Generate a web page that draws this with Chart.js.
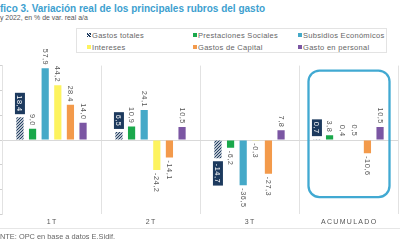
<!DOCTYPE html>
<html>
<head>
<meta charset="utf-8">
<script src="https://cdn.jsdelivr.net/npm/chart.js@4"></script>
<style>
  body { margin: 0; width: 400px; height: 250px; overflow: hidden; background: #fff;
         font-family: "Liberation Sans", Arial, sans-serif; position: relative; }
  #chart { position: absolute; left: 0; top: 0; }
  .title { position: absolute; left: 0; top: 3px; font-size: 10px; font-weight: bold; color: #3d9fcf; white-space: nowrap; }
  .sub { position: absolute; left: 0; top: 14px; font-size: 6.9px; color: #555; white-space: nowrap; }
  #legend { position: absolute; left: 76px; top: 28px; width: 311px; height: 25px; border: 1px solid #e3e3e3; box-sizing: border-box; }
  .item { position: absolute; font-size: 7.5px; color: #666; white-space: nowrap; letter-spacing: 0.3px; }
  .item span { display: inline-block; width: 4px; height: 4px; margin-right: 1px; vertical-align: 1px; }
  .foot { position: absolute; left: 0; top: 228px; width: 400px; border-top: 1px solid #e6e6e6; }
  .foot div { font-size: 7.4px; color: #666; padding-top: 3px; white-space: nowrap; }
</style>
</head>
<body>
<div class="title">fico 3. Variación real de los principales rubros del gasto</div>
<div class="sub">y 2022, en % de var. real a/a</div>
<div id="legend"></div>
<canvas id="chart" width="400" height="250"></canvas>
<div class="foot"><div>NTE: OPC en base a datos E.Sidif.</div></div>
<script>
const categories = ["1T", "2T", "3T", "ACUMULADO"];
const seriesNames = ["Gastos totales", "Prestaciones Sociales", "Subsidios Económicos",
                     "Intereses", "Gastos de Capital", "Gasto en personal"];
const gastosTotales = [18.4, 6.5, -14.7, 0.7];
const prestacionesSociales = [9.0, 10.9, -6.2, 3.8];
const subsidiosEconomicos = [57.9, 24.1, -36.5, 0.4];
const intereses = [44.2, -24.2, -0.3, 0.5];
const gastosCapital = [28.4, -14.1, -27.3, -10.6];
const gastoPersonal = [14.0, 10.5, 7.8, 10.5];
const yTicks = [-60, -40, -20, 0, 20, 40, 60];

const navy = "#1d3a5e";
const colors = [navy, "#1aa84b", "#45a9c8", "#fdf35e", "#f39a4b", "#7b56a3"];

// hatched fill for Gastos totales
function hatch() {
  const c = document.createElement("canvas");
  c.width = 3; c.height = 3;
  const g = c.getContext("2d");
  g.fillStyle = "#fff";
  g.fillRect(0, 0, 3, 3);
  g.strokeStyle = navy;
  g.lineWidth = 1.2;
  g.beginPath();
  g.moveTo(-1, 4); g.lineTo(4, -1);
  g.moveTo(-1, 1); g.lineTo(1, -1);
  g.moveTo(2, 4); g.lineTo(4, 2);
  g.stroke();
  return g.createPattern(c, "repeat");
}

// LEGEND
const legend = document.getElementById("legend");
const legendX = [10, 116, 221];
const legendY = [2, 14];
seriesNames.forEach((name, i) => {
  const d = document.createElement("div");
  d.className = "item";
  d.style.left = legendX[i % 3] + "px";
  d.style.top = legendY[Math.floor(i / 3)] + "px";
  const bg = i === 0
    ? "repeating-linear-gradient(45deg," + navy + " 0 1px,#fff 1px 2px)"
    : colors[i];
  d.innerHTML = '<span style="background:' + bg + '"></span>' + name;
  legend.appendChild(d);
});

const fmt = v => v.toFixed(1).replace(".", ",");

const labelPlugin = {
  id: "labels",
  afterDatasetsDraw(chart) {
    const ctx = chart.ctx;
    ctx.save();
    ctx.font = "7.4px 'Liberation Sans', Arial, sans-serif";
    ctx.letterSpacing = "0.5px";
    ctx.textBaseline = "middle";
    chart.data.datasets.forEach((ds, di) => {
      chart.getDatasetMeta(di).data.forEach((bar, i) => {
        const v = ds.data[i];
        const txt = fmt(v);
        const pos = v >= 0;
        const y = pos ? bar.y - 3 : bar.y + 3;
        ctx.save();
        ctx.translate(bar.x, y);
        ctx.rotate(Math.PI / 2);
        ctx.textAlign = pos ? "right" : "left";
        if (di === 0) {
          const w = ctx.measureText(txt).width + 5;
          ctx.fillStyle = navy;
          ctx.fillRect(pos ? -w : 0, -5, w, 10);
          ctx.fillStyle = "#fff";
          ctx.fillText(txt, pos ? -2.5 : 2.5, 0.5);
        } else {
          ctx.fillStyle = "#555";
          ctx.fillText(txt, 0, 0.5);
        }
        ctx.restore();
      });
    });
    ctx.restore();
  },
  afterDraw(chart) {
    const ctx = chart.ctx;
    const x = chart.scales.x, y = chart.scales.y;
    ctx.save();
    // category labels
    ctx.font = "7px 'Liberation Sans', Arial, sans-serif";
    ctx.fillStyle = "#555";
    ctx.textAlign = "center";
    ctx.textBaseline = "middle";
    ctx.letterSpacing = "1.3px";
    categories.forEach((c, i) => ctx.fillText(c, x.getPixelForValue(i) + 0.7, 222));
    // highlight box around ACUMULADO
    const cx = x.getPixelForValue(3);
    const top = y.getPixelForValue(56), bottom = y.getPixelForValue(-46);
    ctx.strokeStyle = "#41a9d2";
    ctx.lineWidth = 2.3;
    ctx.beginPath();
    ctx.roundRect(cx - 40, top, 81, bottom - top, 11);
    ctx.stroke();
    ctx.restore();
  }
};

const values = [gastosTotales, prestacionesSociales, subsidiosEconomicos, intereses, gastosCapital, gastoPersonal];

new Chart(document.getElementById("chart"), {
  type: "bar",
  data: {
    labels: categories,
    datasets: values.map((data, i) => ({
      label: seriesNames[i],
      data: data,
      backgroundColor: i === 0 ? hatch() : colors[i],
      categoryPercentage: 0.765,
      barPercentage: 0.57
    }))
  },
  options: {
    responsive: false,
    animation: false,
    layout: { padding: { top: 65.6, bottom: 35.6, left: 0, right: 2 } },
    plugins: { legend: { display: false }, tooltip: { enabled: false } },
    scales: {
      x: {
        ticks: { display: false },
        grid: { offset: true, color: "#e2e2e2", drawTicks: false },
        border: { display: false }
      },
      y: {
        min: -60, max: 60,
        afterBuildTicks: s => { s.ticks = yTicks.map(v => ({ value: v })); },
        ticks: { display: false },
        grid: {
          tickLength: 2,
          tickColor: "#d0d0d0",
          color: ctx => ctx.tick && ctx.tick.value === 0 ? "#d9d9d9" : "rgba(0,0,0,0)"
        },
        border: { color: "#e2e2e2" }
      }
    }
  },
  plugins: [labelPlugin]
});
</script>
</body>
</html>
